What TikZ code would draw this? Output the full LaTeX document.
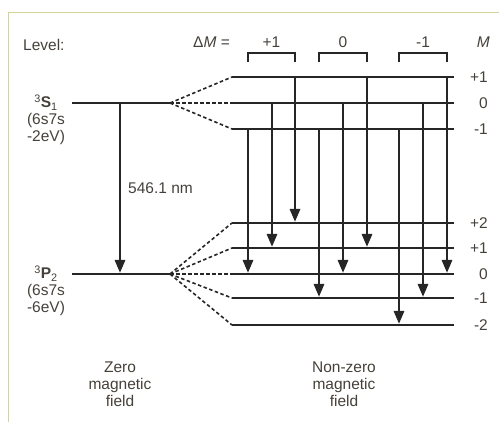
\documentclass[tikz,border=0pt]{standalone}
\usepackage{fontspec}
\setmainfont{Liberation Sans}
\usetikzlibrary{arrows.meta}
\definecolor{ink}{HTML}{262626}
\definecolor{txt}{HTML}{45403A}
\definecolor{frame}{HTML}{D2D49A}
\tikzstyle{level} = [draw=ink, line width=2.2pt]
\tikzstyle{fan} = [draw=ink, line width=1.6pt, dash pattern=on 3.5pt off 2.5pt]
\tikzstyle{trans} = [draw=ink, line width=2.8pt, shorten >=1pt, -{Triangle[length=13pt,width=10pt]}]
\tikzstyle{brack} = [draw=ink, line width=1.6pt]
\tikzstyle{lbl} = [text=txt, font=\fontsize{15.5}{17}\selectfont, inner sep=0pt]

\begin{document}
\begin{tikzpicture}[x=1pt,y=-1pt]
\useasboundingbox (0,0) rectangle (499,422);
\draw[frame, line width=0.8pt] (8,422) -- (8,12) -- (499,12);

% zero field levels
\coordinate (S) at (72,103);
\coordinate (Sr) at (170,103);
\coordinate (P) at (72,274);
\coordinate (Pr) at (170,274);
\draw[level] (S) -- (Sr);
\draw[level] (P) -- (Pr);

% split levels
\foreach \n/\y/\m in {uP/77/+1, uZ/103/0, uM/129/-1, lPP/223/+2, lP/248/+1, lZ/274/0, lM/298/-1, lMM/325/-2} {
    \coordinate (\n) at (232,\y);
    \coordinate (\n-e) at (454,\y);
    \draw[level] (\n) -- (\n-e);
    \node[lbl, anchor=east] (\n-lab) at (488,\y) {\m};
}
\foreach \n in {uP,uZ,uM}
    \draw[fan] (Sr) -- (\n);
\foreach \n in {lPP,lP,lZ,lM,lMM}
    \draw[fan] (Pr) -- (\n);

% transitions
\coordinate (c0) at (120,0);
\draw[trans] (c0 |- S) -- (c0 |- P);
\foreach \x/\a/\b in {248/uM/lZ, 272/uZ/lP, 295/uP/lPP, 319/uM/lM, 343/uZ/lZ, 367/uP/lP, 399/uM/lMM, 423/uZ/lM, 447/uP/lZ} {
    \coordinate (c\x) at (\x,0);
    \draw[trans] (c\x |- \a) -- (c\x |- \b);
}

% brackets
\foreach \l/\r/\t in {248/295/+1, 319/367/0, 399/447/-1} {
    \draw[brack] (\l,62) -- (\l,53) -- (\r,53) -- (\r,62);
    \node[lbl] (dm\l) at ({(\l+\r)/2},42) {\t};
}

\node[lbl, anchor=west] (lev) at (23,45) {Level:};
\node[lbl, anchor=west] (dM) at (193,42) {Δ\textit{M} =};
\node[lbl, anchor=east] (Mh) at (490,42) {\textit{M}};
\node[lbl, anchor=west] (wl) at (128,188) {546.1 nm};
\node[lbl, align=center] (Slab) at (46,120) {\textsuperscript{3}\textbf{S}\textsubscript{1}\\(6s7s\\-2eV)};
\node[lbl, align=center] (Plab) at (46,291) {\textsuperscript{3}\textbf{P}\textsubscript{2}\\(6s7s\\-6eV)};
\node[lbl, align=center] (zf) at (120,384) {Zero\\magnetic\\field};
\node[lbl, align=center] (nzf) at (344,384) {Non-zero\\magnetic\\field};
\end{tikzpicture}
\end{document}
